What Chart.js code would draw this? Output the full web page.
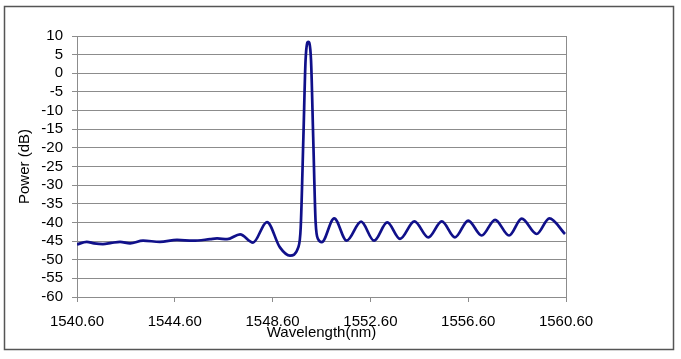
<!DOCTYPE html>
<html><head><meta charset="utf-8">
<script src="https://cdn.jsdelivr.net/npm/chart.js@4.4.1/dist/chart.umd.min.js"></script>
<style>html,body{margin:0;padding:0;background:#fff}canvas{display:block}</style>
</head><body>
<canvas id="chart" width="681" height="359"></canvas>
<script>
// spectrum: wavelength (nm) and power (dB)
const wavelength=[1540.60,1541.00,1541.30,1541.66,1542.00,1542.36,1542.77,1543.30,1543.99,1544.69,1545.34,1546.04,1546.33,1546.74,1547.27,1547.80,1548.37,1548.90,1549.31,1549.65,1549.75,1549.86,1549.95,1550.06,1550.17,1550.26,1550.36,1550.47,1550.61,1551.12,1551.63,1552.22,1552.75,1553.29,1553.81,1554.40,1554.97,1555.52,1556.06,1556.60,1557.15,1557.70,1558.27,1558.79,1559.40,1559.92,1560.56];
const power=[-45.9,-45.2,-45.6,-45.8,-45.5,-45.2,-45.6,-44.9,-45.2,-44.7,-44.9,-44.5,-44.3,-44.5,-43.2,-45.4,-39.9,-46.7,-48.9,-46.7,-41.3,-17.0,3.7,8.4,3.7,-17.0,-40.0,-44.6,-45.3,-38.9,-44.9,-39.8,-44.9,-40.0,-44.4,-39.7,-44.0,-39.7,-44.0,-39.5,-43.5,-39.3,-43.5,-39.0,-43.1,-38.9,-43.1];
const xTicks=[1540.6,1544.6,1548.6,1552.6,1556.6,1560.6];
const yMin=-60,yMax=10,yStep=5;

const frame={id:'frame',afterDraw(c){
  const g=c.ctx,a=c.chartArea;
  g.save();
  g.strokeStyle='#8c8c8c';g.lineWidth=1;
  g.beginPath();g.moveTo(Math.round(a.right)+0.5,a.top);g.lineTo(Math.round(a.right)+0.5,a.bottom);g.stroke();
  g.strokeStyle='#555';g.lineWidth=1.5;
  g.strokeRect(4.5,6.5,669,343);
  g.restore();
}};

const font={family:'"Liberation Sans", Arial, sans-serif',size:15};
new Chart(document.getElementById('chart'),{
  type:'line',
  data:{datasets:[{data:wavelength.map((x,i)=>({x,y:power[i]})),borderColor:'#10108a',borderWidth:2.7,pointRadius:0,fill:false,cubicInterpolationMode:'monotone'}]},
  options:{
    responsive:false,animation:false,
    layout:{padding:{left:0,right:115,top:36,bottom:0}},
    plugins:{legend:{display:false},tooltip:{enabled:false}},
    scales:{
      x:{type:'linear',min:xTicks[0],max:xTicks[xTicks.length-1],
        afterBuildTicks:s=>{s.ticks=xTicks.map(v=>({value:v}))},
        afterFit:s=>{s.height=62},
        grid:{drawOnChartArea:false,tickLength:5,color:'#8c8c8c'},
        border:{color:'#8c8c8c'},
        ticks:{font,color:'#000',padding:11,maxRotation:0,autoSkip:false,callback:v=>v.toFixed(2)},
        title:{display:true,text:'Wavelength(nm)',font,color:'#000',padding:{top:0,bottom:17}}},
      y:{min:yMin,max:yMax,
        afterFit:s=>{s.width=77},
        grid:{color:'#8c8c8c',tickLength:5},
        border:{color:'#8c8c8c'},
        ticks:{font,color:'#000',stepSize:yStep,padding:9,autoSkip:false},
        title:{display:true,text:'Power (dB)',font,color:'#000',padding:{top:16,bottom:0}}}
    }
  },
  plugins:[frame]
});
</script>
</body></html>
